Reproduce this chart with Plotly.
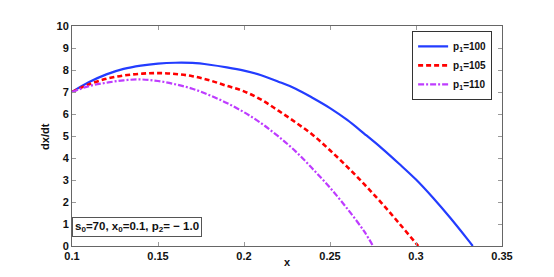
import plotly.graph_objects as go

x_blue = [0.10, 0.11, 0.12, 0.13, 0.14, 0.15, 0.16, 0.17, 0.18, 0.19, 0.20, 0.21, 0.22,
          0.23, 0.24, 0.25, 0.26, 0.27, 0.28, 0.29, 0.30, 0.31, 0.32, 0.33, 0.333]
y_blue = [7.00, 7.45, 7.80, 8.05, 8.20, 8.29, 8.33, 8.32, 8.24, 8.12, 7.97, 7.76, 7.47,
          7.15, 6.73, 6.27, 5.73, 5.10, 4.45, 3.75, 3.02, 2.18, 1.27, 0.30, 0.0]

x_red = [0.10, 0.11, 0.12, 0.13, 0.14, 0.15, 0.16, 0.17, 0.18, 0.19, 0.20, 0.21, 0.22,
         0.23, 0.24, 0.25, 0.26, 0.27, 0.28, 0.29, 0.30, 0.3013]
y_red = [7.00, 7.35, 7.60, 7.75, 7.83, 7.86, 7.82, 7.72, 7.53, 7.28, 7.03, 6.65, 6.15,
         5.62, 5.05, 4.35, 3.60, 2.80, 1.95, 1.05, 0.12, 0.0]

x_purple = [0.10, 0.11, 0.12, 0.13, 0.14, 0.15, 0.16, 0.17, 0.18, 0.19, 0.20, 0.21, 0.22,
            0.23, 0.24, 0.25, 0.26, 0.27, 0.275]
y_purple = [7.00, 7.27, 7.42, 7.53, 7.57, 7.50, 7.35, 7.15, 6.85, 6.50, 6.08, 5.58, 4.98,
            4.30, 3.50, 2.65, 1.70, 0.65, 0.0]

names = ["p<sub>1</sub>=100", "p<sub>1</sub>=105", "p<sub>1</sub>=110"]
x_ticks = [0.1, 0.15, 0.2, 0.25, 0.3, 0.35]
x_tick_text = ["0.1", "0.15", "0.2", "0.25", "0.3", "0.35"]
y_ticks = list(range(0, 11))

fig = go.Figure()
fig.add_trace(go.Scatter(x=x_blue, y=y_blue, mode="lines", name=names[0], line_shape="spline",
                         line=dict(color="rgb(35,60,255)", width=2.2)))
fig.add_trace(go.Scatter(x=x_red, y=y_red, mode="lines", name=names[1], line_shape="spline",
                         line=dict(color="rgb(255,0,0)", width=2.6, dash="5px,3px")))
fig.add_trace(go.Scatter(x=x_purple, y=y_purple, mode="lines", name=names[2], line_shape="spline",
                         line=dict(color="rgb(190,60,255)", width=2.2, dash="6px,2px,2px,2px")))

font_family = "Liberation Sans, Arial, sans-serif"
axis_common = dict(showgrid=False, zeroline=False, showline=True, linecolor="#666",
                   linewidth=1, mirror="ticks", ticks="inside", ticklen=4,
                   tickcolor="#999",
                   tickfont=dict(family=font_family, size=11, color="#111", weight="bold"))

# page body has an 8px default margin, so the figure is sized/offset to compensate
fig.update_layout(
    width=546, height=269,
    margin=dict(l=64, r=52, t=12, b=31),
    paper_bgcolor="white", plot_bgcolor="white",
    font=dict(family=font_family, size=11, color="#111"),
    xaxis=dict(range=[0.1, 0.35], tickvals=x_ticks, ticktext=x_tick_text, **axis_common),
    yaxis=dict(range=[0, 10], tickvals=y_ticks, **axis_common),
    legend=dict(x=0.977, y=0.978, xanchor="right", yanchor="top",
                bgcolor="white", bordercolor="#333", borderwidth=1,
                font=dict(family=font_family, size=10, color="#111", weight="bold"),
                tracegroupgap=0, itemwidth=30),
    showlegend=True,
)

# axis titles
fig.add_annotation(xref="paper", yref="paper", x=0.5, y=-0.071, xanchor="center",
                   yanchor="middle", text="<b>x</b>", showarrow=False,
                   font=dict(family=font_family, size=11, color="#111"))
fig.add_annotation(xref="paper", yref="paper", x=-0.063, y=0.5, xanchor="center",
                   yanchor="middle", text="<b>dx/dt</b>", textangle=-90, showarrow=False,
                   font=dict(family=font_family, size=11, color="#111"))

fig.add_annotation(
    xref="paper", yref="paper", x=0.0, y=0.088, xanchor="left", yanchor="middle",
    text="<b>s<sub>0</sub>=70, x<sub>0</sub>=0.1, p<sub>2</sub>= \u2212 1.0</b>",
    showarrow=False, align="left",
    font=dict(family=font_family, size=11.5, color="#111"),
    bgcolor="white", bordercolor="#555", borderwidth=1, borderpad=2,
)

fig.write_html("out.html")
